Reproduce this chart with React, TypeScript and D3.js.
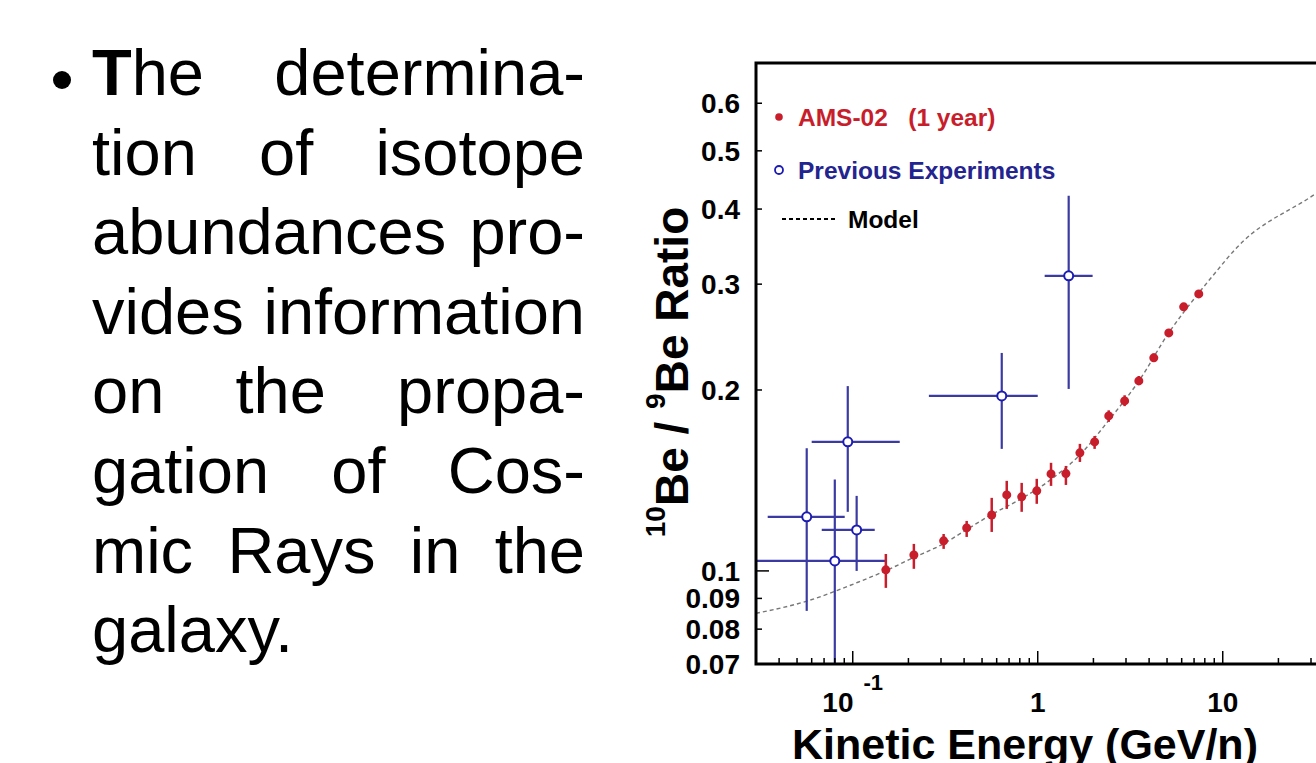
import React, { useEffect, useRef } from 'react'
import * as d3 from 'd3'

// AMS-02 (1 year) projected points
const amsEnergy = [0.151, 0.214, 0.310, 0.413, 0.564, 0.680, 0.819, 0.988, 1.18, 1.42, 1.69, 2.03, 2.42, 2.95, 3.52, 4.24, 5.11, 6.15, 7.42]
const amsRatio = [0.1004, 0.1063, 0.1122, 0.1179, 0.1239, 0.1338, 0.1328, 0.1359, 0.1450, 0.1452, 0.1572, 0.1639, 0.1811, 0.1918, 0.2071, 0.2262, 0.2489, 0.2750, 0.2890]
const amsLow = [0.0937, 0.1008, 0.1088, 0.1139, 0.1161, 0.1268, 0.1254, 0.1293, 0.1385, 0.1390, 0.1518, 0.1596, 0.177, 0.188, 0.204, 0.223, 0.246, 0.272, 0.286]
const amsHigh = [0.1067, 0.1109, 0.1152, 0.1211, 0.1323, 0.1412, 0.1401, 0.1423, 0.1513, 0.1495, 0.1627, 0.1677, 0.185, 0.196, 0.211, 0.230, 0.252, 0.278, 0.292]

// previous experiments
const prevEnergy = [0.0564, 0.080, 0.105, 0.094, 0.639, 1.47]
const prevRatio = [0.123, 0.1039, 0.117, 0.164, 0.1955, 0.3097]
const prevELow = [0.0347, 0.02, 0.068, 0.060, 0.258, 1.09]
const prevEHigh = [0.0905, 0.151, 0.1315, 0.1795, 1.0, 1.98]
const prevRLow = [0.0858, 0.05, 0.100, 0.1254, 0.1596, 0.2008]
const prevRHigh = [0.160, 0.142, 0.1333, 0.203, 0.2305, 0.421]

// model curve
const modelEnergy = [0.03, 0.056, 0.109, 0.15, 0.21, 0.31, 0.41, 0.56, 0.82, 1.18, 1.69, 2.42, 3.52, 5.11, 7.42, 9.16, 11.8, 14.5, 17.7, 21.9, 27.1, 31.8, 40]
const modelRatio = [0.085, 0.089, 0.096, 0.100, 0.105, 0.111, 0.117, 0.124, 0.132, 0.142, 0.156, 0.178, 0.207, 0.249, 0.290, 0.314, 0.344, 0.365, 0.381, 0.396, 0.411, 0.424, 0.44]

const yTicks = [0.07, 0.08, 0.09, 0.1, 0.2, 0.3, 0.4, 0.5, 0.6]
const yTickLabels = ['0.07', '0.08', '0.09', '0.1', '0.2', '0.3', '0.4', '0.5', '0.6']
const xMajorTicks = [0.1, 1, 10, 100]
const xLabelTicks = [0.1, 1, 10]
const xTickBase = ['10', '1', '10']
const xTickExp = ['-1', '', '']

const bulletLines = [
  'The determina-',
  'tion of isotope',
  'abundances pro-',
  'vides information',
  'on the propa-',
  'gation of Cos-',
  'mic Rays in the',
  'galaxy.'
]

const FONT = '"Liberation Sans", Arial, Helvetica, sans-serif'
const RED = '#c81e2c'
const BLUE_BAR = '#3a3aa2'
const BLUE_RING = '#1c1cb4'
const NBSP = '\u00a0'

export default function App() {
  const ref = useRef<SVGSVGElement>(null)

  useEffect(() => {
    const svg = d3.select(ref.current)
    svg.selectAll('*').remove()

    // ---- bullet text, justified line by line
    svg.append('circle').attr('cx', 62).attr('cy', 80).attr('r', 9).attr('fill', '#000')
    const textLeft = 92
    const textRight = 585
    bulletLines.forEach((line, i) => {
      const words = line.split(' ')
      const y = 95 + i * 79.6
      const nodes = words.map(w => {
        const t = svg.append('text')
          .attr('y', y)
          .attr('font-size', 65)
          .attr('font-family', FONT)
          .attr('fill', '#000')
        if (w === 'The') {
          t.append('tspan').attr('font-weight', 'bold').text('T')
          t.append('tspan').text('he')
        } else {
          t.text(w)
        }
        return t
      })
      const widths = nodes.map(n => (n.node() as SVGTextElement).getComputedTextLength())
      const last = i === bulletLines.length - 1
      const gap = last || words.length < 2 ? 18 : (textRight - textLeft - d3.sum(widths)) / (words.length - 1)
      let x = textLeft
      nodes.forEach((n, k) => {
        n.attr('x', x)
        x += widths[k] + gap
      })
    })

    // ---- chart
    const left = 756
    const top = 63
    const bottom = 664
    const decade = 185
    const xScale = d3.scaleLog().domain([0.03, 100]).range([left, left + decade * Math.log10(100 / 0.03)])
    const yScale = d3.scaleLog().domain([0.07, 0.7]).range([bottom, top])
    const right = xScale(100)

    svg.append('defs').append('clipPath').attr('id', 'plotClip')
      .append('rect').attr('x', left).attr('y', top).attr('width', right - left).attr('height', bottom - top)

    const plot = svg.append('g').attr('clip-path', 'url(#plotClip)')

    // model
    const line = d3.line<number>()
      .x((d, i) => xScale(modelEnergy[i]))
      .y(d => yScale(d))
      .curve(d3.curveMonotoneX)
    plot.append('path')
      .attr('d', line(modelRatio))
      .attr('fill', 'none')
      .attr('stroke', '#777')
      .attr('stroke-width', 1.4)
      .attr('stroke-dasharray', '4,3')

    // previous experiments
    prevEnergy.forEach((e, i) => {
      const cx = xScale(e)
      const cy = yScale(prevRatio[i])
      plot.append('line')
        .attr('x1', xScale(prevELow[i])).attr('x2', xScale(prevEHigh[i]))
        .attr('y1', cy).attr('y2', cy)
        .attr('stroke', BLUE_BAR).attr('stroke-width', 2.2)
      plot.append('line')
        .attr('x1', cx).attr('x2', cx)
        .attr('y1', yScale(prevRLow[i])).attr('y2', yScale(prevRHigh[i]))
        .attr('stroke', BLUE_BAR).attr('stroke-width', 2.2)
      plot.append('circle')
        .attr('cx', cx).attr('cy', cy).attr('r', 4.5)
        .attr('fill', '#fff').attr('stroke', BLUE_RING).attr('stroke-width', 2)
    })

    // AMS-02
    amsEnergy.forEach((e, i) => {
      const cx = xScale(e)
      plot.append('line')
        .attr('x1', cx).attr('x2', cx)
        .attr('y1', yScale(amsLow[i])).attr('y2', yScale(amsHigh[i]))
        .attr('stroke', RED).attr('stroke-width', 2.5)
      plot.append('circle')
        .attr('cx', cx).attr('cy', yScale(amsRatio[i])).attr('r', 4.5)
        .attr('fill', RED)
    })

    // frame
    const frame = svg.append('g').attr('stroke', '#000').attr('stroke-width', 3).attr('fill', 'none')
    frame.append('path').attr('d', `M${right},${top}H${left}V${bottom}H${right}`)

    // x ticks (inward)
    const minorX: number[] = []
    for (let p = -2; p < 2; p++) {
      for (let m = 1; m < 10; m++) {
        const v = m * Math.pow(10, p)
        if (v >= 0.03 && v <= 100) minorX.push(v)
      }
    }
    svg.append('g').selectAll('line').data(minorX).join('line')
      .attr('x1', d => xScale(d)).attr('x2', d => xScale(d))
      .attr('y1', bottom)
      .attr('y2', d => bottom - (xMajorTicks.includes(d) ? 13 : 6))
      .attr('stroke', '#000').attr('stroke-width', 1.5)

    // x tick labels
    xLabelTicks.forEach((v, i) => {
      const t = svg.append('text')
        .attr('x', xScale(v))
        .attr('y', 712)
        .attr('text-anchor', 'middle')
        .attr('font-family', FONT)
        .attr('font-weight', 'bold')
        .attr('font-size', 28)
        .attr('fill', '#000')
      t.append('tspan').text(xTickBase[i])
      if (xTickExp[i]) {
        t.append('tspan').attr('dx', 10).attr('dy', -22).attr('font-size', 22).text(xTickExp[i])
      }
    })

    // y ticks (inward)
    svg.append('g').selectAll('line').data(yTicks).join('line')
      .attr('x1', left).attr('x2', d => left + (d === 0.1 ? 13 : 6))
      .attr('y1', d => yScale(d)).attr('y2', d => yScale(d))
      .attr('stroke', '#000').attr('stroke-width', 1.5)

    svg.append('g').selectAll('text').data(yTicks).join('text')
      .attr('x', 740)
      .attr('y', d => yScale(d))
      .attr('dy', '0.36em')
      .attr('text-anchor', 'end')
      .attr('font-family', FONT)
      .attr('font-weight', 'bold')
      .attr('font-size', 28)
      .attr('fill', '#000')
      .text((d, i) => yTickLabels[i])

    // axis titles
    svg.append('text')
      .attr('x', 1025)
      .attr('y', 759)
      .attr('text-anchor', 'middle')
      .attr('font-family', FONT)
      .attr('font-weight', 'bold')
      .attr('font-size', 43)
      .attr('fill', '#000')
      .text('Kinetic Energy (GeV/n)')

    const yTitle = svg.append('text')
      .attr('transform', 'translate(688,372) rotate(-90)')
      .attr('text-anchor', 'middle')
      .attr('font-family', FONT)
      .attr('font-weight', 'bold')
      .attr('font-size', 46)
      .attr('fill', '#000')
    yTitle.append('tspan').attr('font-size', 28).attr('dy', -23).text('10')
    yTitle.append('tspan').attr('dy', 23).text(`Be${NBSP}/${NBSP}`)
    yTitle.append('tspan').attr('font-size', 28).attr('dy', -23).text('9')
    yTitle.append('tspan').attr('dy', 23).text('Be Ratio')

    // legend
    const legend = svg.append('g')
      .attr('font-family', FONT)
      .attr('font-weight', 'bold')
      .attr('font-size', 24.5)
    legend.append('circle').attr('cx', 779).attr('cy', 117).attr('r', 3.8).attr('fill', RED)
    legend.append('text').attr('x', 798).attr('y', 117).attr('dy', '0.36em').attr('fill', RED)
      .text(`AMS-02${NBSP}${NBSP}${NBSP}(1 year)`)
    legend.append('circle').attr('cx', 779).attr('cy', 170).attr('r', 4)
      .attr('fill', '#fff').attr('stroke', BLUE_RING).attr('stroke-width', 1.8)
    legend.append('text').attr('x', 798).attr('y', 170).attr('dy', '0.36em').attr('fill', '#24248f')
      .text('Previous Experiments')
    legend.append('line').attr('x1', 782).attr('x2', 836).attr('y1', 219).attr('y2', 219)
      .attr('stroke', '#000').attr('stroke-width', 2).attr('stroke-dasharray', '4,3')
    legend.append('text').attr('x', 848).attr('y', 219).attr('dy', '0.36em').attr('fill', '#000').text('Model')
  }, [])

  return (
    <svg
      ref={ref}
      width={1316}
      height={763}
      style={{ position: 'absolute', left: 0, top: 0, background: '#fff' }}
    />
  )
}
